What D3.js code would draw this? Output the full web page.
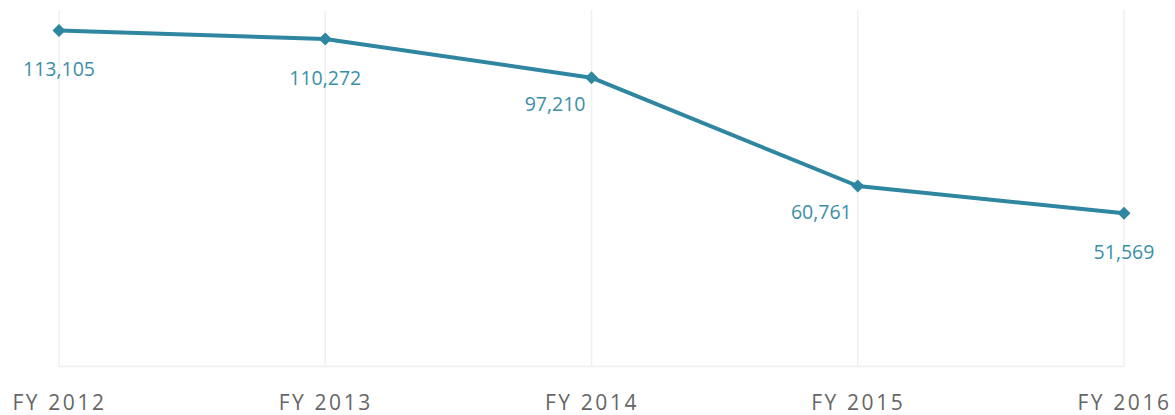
<!DOCTYPE html>
<html>
<head>
<meta charset="utf-8">
<script src="https://cdn.jsdelivr.net/npm/d3@7"></script>
<style>
  body { margin: 0; background: #fff; }
  text { font-family: "Open Sans", "Noto Sans", sans-serif; }
</style>
</head>
<body>
<svg width="1175" height="415"></svg>
<script>
var years = ["FY 2012", "FY 2013", "FY 2014", "FY 2015", "FY 2016"];
var counts = [113105, 110272, 97210, 60761, 51569];

var svg = d3.select("svg"),
    width = +svg.attr("width"),
    height = +svg.attr("height");

var lineColor = "#2f86a0",
    labelColor = "#3b8fa9";

var x = d3.scalePoint()
    .domain(years)
    .range([59, 1124]);

var y = d3.scaleLinear()
    .domain([0, 120000])
    .range([366.5, 10]);

var data = years.map(function(d, i) { return {year: d, value: counts[i]}; });

// label placement: below the point, or tucked to the left where the line drops
var labelAnchor = ["middle", "middle", "end", "end", "middle"];

// vertical gridlines
svg.append("g").selectAll("line")
  .data(years)
  .enter().append("line")
    .attr("x1", function(d) { return x(d); })
    .attr("x2", function(d) { return x(d); })
    .attr("y1", y.range()[1])
    .attr("y2", y(0))
    .attr("stroke", "#f0f0f0")
    .attr("stroke-width", 1.5);

// baseline
svg.append("line")
    .attr("x1", x.range()[0])
    .attr("x2", x.range()[1])
    .attr("y1", y(0))
    .attr("y2", y(0))
    .attr("stroke", "#efefef")
    .attr("stroke-width", 1.5);

// x axis labels
var xAxis = svg.append("g")
    .attr("transform", "translate(0," + (y(0) + 43) + ")")
    .call(d3.axisBottom(x).tickSize(0).tickPadding(0));
xAxis.select(".domain").remove();
xAxis.selectAll("text")
    .attr("fill", "#666")
    .attr("dy", 0)
    .style("font-size", "21px")
    .style("letter-spacing", "2.6px");

var line = d3.line()
    .x(function(d) { return x(d.year); })
    .y(function(d) { return y(d.value); });

svg.append("path")
    .datum(data)
    .attr("fill", "none")
    .attr("stroke", lineColor)
    .attr("stroke-width", 4)
    .attr("stroke-linejoin", "round")
    .attr("d", line);

svg.append("g").selectAll("path")
  .data(data)
  .enter().append("path")
    .attr("d", d3.symbol().type(d3.symbolSquare).size(85))
    .attr("transform", function(d) { return "translate(" + x(d.year) + "," + y(d.value) + ") rotate(45)"; })
    .attr("fill", lineColor);

svg.append("g").selectAll("text")
  .data(data)
  .enter().append("text")
    .attr("x", function(d, i) { return x(d.year) + (labelAnchor[i] == "end" ? -6 : 0); })
    .attr("y", function(d, i) { return y(d.value) + (labelAnchor[i] == "end" ? 33 : 46); })
    .attr("text-anchor", function(d, i) { return labelAnchor[i]; })
    .attr("fill", labelColor)
    .style("font-size", "19.5px")
    .text(function(d) { return d3.format(",")(d.value); });
</script>
</body>
</html>
